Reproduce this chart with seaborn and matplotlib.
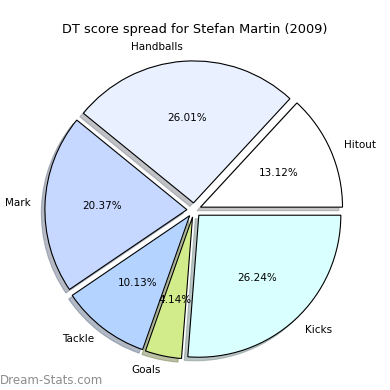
import matplotlib
matplotlib.use("Agg")
import matplotlib.pyplot as plt
import seaborn as sns

# DT score breakdown
CATEGORIES = ["Hitout", "Handballs", "Mark", "Tackle", "Goals", "Kicks"]
SHARES = [13.12, 26.01, 20.37, 10.13, 4.14, 26.24]
COLORS = ["#ffffff", "#e9f0ff", "#c6d8ff", "#b4d4ff", "#d2ec8c", "#d9ffff"]
TITLE = "DT score spread for Stefan Martin (2009)"

sns.set_style("white")
plt.rcParams["font.family"] = ["DejaVu Sans"]
plt.rcParams["text.color"] = "black"

fig = plt.figure(figsize=(3.9, 3.9), dpi=100)
ax = fig.add_axes([16.5 / 390, 2.5 / 390, 355 / 390, 355 / 390])

wedges, texts, autotexts = ax.pie(
    SHARES,
    labels=CATEGORIES,
    colors=COLORS,
    explode=[0.05] * len(SHARES),
    autopct="%1.2f%%",
    shadow={"ox": -0.018, "oy": -0.018, "shade": 0.45},
    startangle=0,
    wedgeprops={"edgecolor": "black", "linewidth": 0.8},
    textprops={"fontsize": 7.5, "color": "black"},
)
ax.set_aspect("equal")

fig.text(0.5, 0.925, TITLE, ha="center", va="center", fontsize=9.3, color="black")
fig.text(0.0, 0.025, "Dream-Stats.com", ha="left", va="center",
         fontsize=8.5, color="#8c8c8c")

plt.savefig("out.png", dpi=100)
plt.close()
